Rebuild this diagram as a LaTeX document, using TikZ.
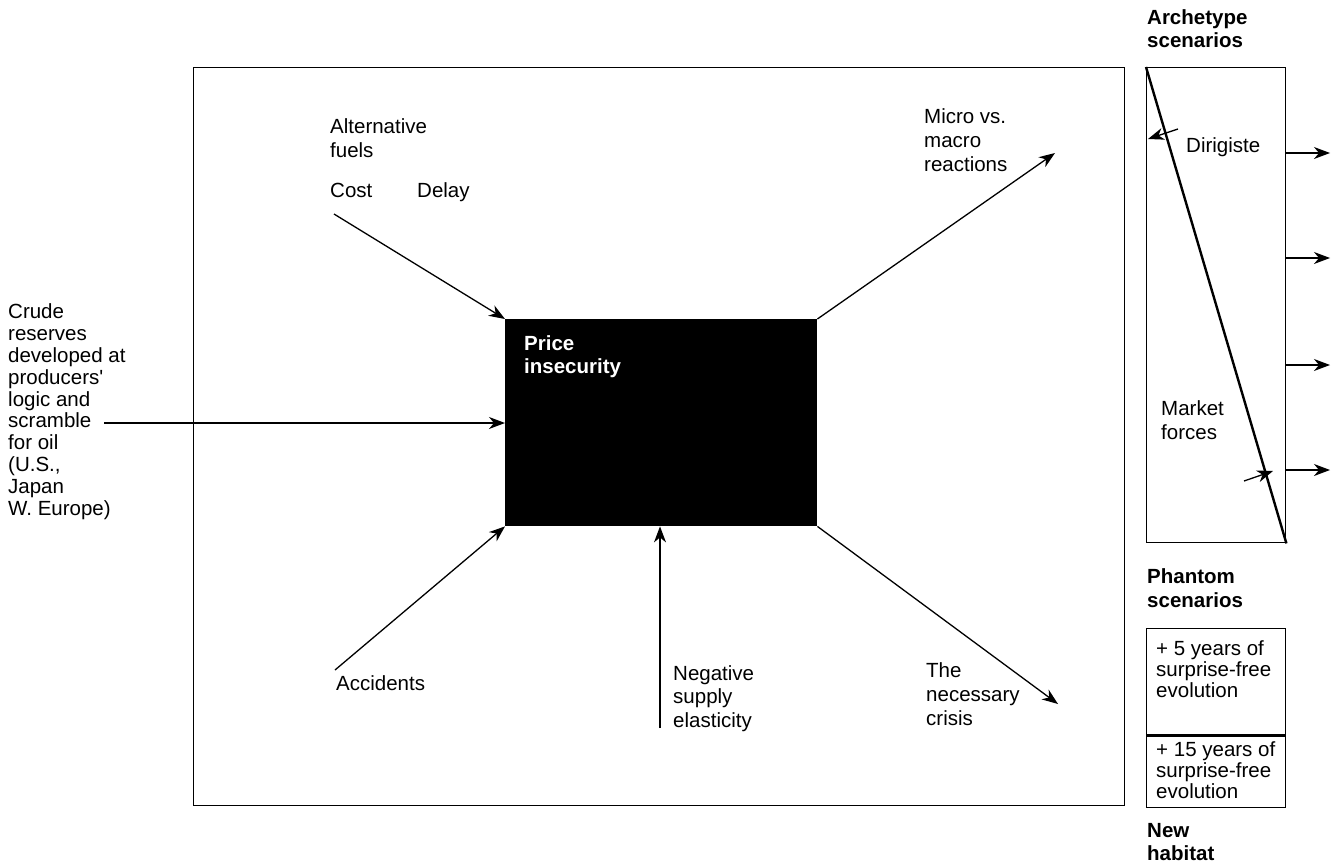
\documentclass[tikz,border=0pt]{standalone}
\usepackage{fontspec}
\setmainfont{Liberation Sans}
\usetikzlibrary{arrows.meta}
\newcommand{\fsz}[1]{\fontsize{20.5}{#1}\selectfont}
\tikzset{
  lbl/.style={anchor=base west, align=left, inner sep=0pt, font=\fsz{22}},
  lblw/.style={lbl, font=\fsz{24}},
  hd/.style={lbl, font=\fsz{23.5}\bfseries},
  frame/.style={draw, line width=1.4pt},
  arr/.style={line width=1.3pt, -{Stealth[length=16pt,width=12pt,inset=5pt]}},
}
\begin{document}
\begin{tikzpicture}[x=1pt, y=-1pt]
\useasboundingbox (0,0) rectangle (1331,867);
% main frame
\node[frame, minimum width=931pt, minimum height=738pt, anchor=north west, inner sep=0pt] (main) at (193,67) {};
% black box
\node[fill=black, minimum width=312pt, minimum height=207pt, anchor=north west, inner sep=0pt] (box) at (505,319) {};
\node[hd, text=white, font=\fsz{23}\bfseries] (price) at (524,373) {Price\\insecurity};

% labels inside
\node[lblw] (alt) at (330,157) {Alternative\\fuels};
\node[lbl] (cost) at (330,197) {Cost};
\node[lbl] (delay) at (417,197) {Delay};
\node[lbl, font=\fsz{21.8}] (crude) at (8,515) {Crude\\reserves\\developed at\\producers\textquotesingle\\logic and\\scramble\\for oil\\(U.S.,\\Japan\\W. Europe)};
\node[lblw] (micro) at (924,171) {Micro vs.\\macro\\reactions};
\node[lbl] (acc) at (336,690) {Accidents};
\node[lbl, font=\fsz{23.5}] (neg) at (673,727) {Negative\\supply\\elasticity};
\node[lblw] (crisis) at (926,725) {The\\necessary\\crisis};

% arrow end points
\coordinate (costS) at (334,214);
\coordinate (crudeS) at (104,423);
\coordinate (accS) at (335,670);
\coordinate (negS) at (660,728);
\coordinate (microE) at (1055,153);
\coordinate (crisisE) at (1058,704);

\draw[arr] (costS) -- (box.north west);
\draw[arr] (crudeS) -- (box.west |- crudeS);
\draw[arr] (accS) -- (box.south west);
\draw[arr] (negS) -- (box.south -| negS);
\draw[arr] (box.north east) -- (microE);
\draw[arr] (box.south east) -- (crisisE);

% archetype scenarios
\node[hd] (archl) at (1147,48) {Archetype\\scenarios};
\node[frame, minimum width=139pt, minimum height=475pt, anchor=north west, inner sep=0pt] (arch) at (1146,67) {};
\draw[line width=2.4pt] (arch.north west) -- (arch.south east);
\node[lbl] (dir) at (1186,152) {Dirigiste};
\node[lblw] (mkt) at (1161,439) {Market\\forces};
\coordinate (dirS) at (1178,129);
\coordinate (dirE) at (1148,139);
\coordinate (mktS) at (1244,481);
\coordinate (mktE) at (1273,471);
\draw[arr] (dirS) -- (dirE);
\draw[arr] (mktS) -- (mktE);
\foreach \yy/\nm in {153/a,258/b,365/c,470/d}{
  \coordinate (o\nm) at (1330,\yy);
  \draw[arr] (arch.east |- o\nm) -- (o\nm);
}

% phantom scenarios
\node[hd] (phl) at (1147,607) {Phantom\\scenarios};
\node[frame, minimum width=139pt, minimum height=106pt, anchor=north west, inner sep=0pt] (p5) at (1146,628) {};
\node[frame, minimum width=139pt, minimum height=73pt, anchor=north west, inner sep=0pt] (p15) at (1146,734) {};
\draw[line width=2.4pt] (p5.south west) -- (p5.south east);
\node[lbl, font=\fsz{21}] (t5) at (1156,697) {+ 5 years of\\surprise-free\\evolution};
\node[lbl, font=\fsz{21}] (t15) at (1156,798) {+ 15 years of\\surprise-free\\evolution};
\node[hd, font=\fsz{23}\bfseries] (nh) at (1147,860) {New\\habitat};
\end{tikzpicture}
\end{document}
